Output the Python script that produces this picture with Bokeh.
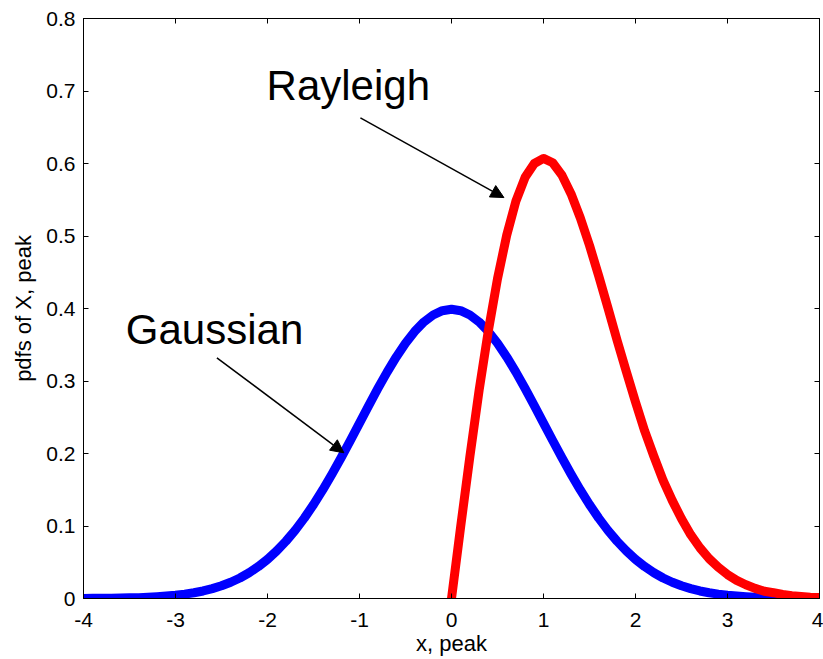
from bokeh.plotting import figure
from bokeh.models import Range1d, LinearAxis, FixedTicker, Arrow, NormalHead, CustomJSTickFormatter
from bokeh.core.properties import value
from bokeh.embed import file_html
from bokeh.resources import INLINE

# Data
gauss_x = [-4.0, -3.9, -3.8, -3.7, -3.6, -3.5, -3.4, -3.3, -3.2, -3.1, -3.0, -2.9, -2.8, -2.7,
           -2.6, -2.5, -2.4, -2.3, -2.2, -2.1, -2.0, -1.9, -1.8, -1.7, -1.6, -1.5, -1.4, -1.3,
           -1.2, -1.1, -1.0, -0.9, -0.8, -0.7, -0.6, -0.5, -0.4, -0.3, -0.2, -0.1, 0.0,
           0.1, 0.2, 0.3, 0.4, 0.5, 0.6, 0.7, 0.8, 0.9, 1.0, 1.1, 1.2, 1.3, 1.4, 1.5, 1.6, 1.7,
           1.8, 1.9, 2.0, 2.1, 2.2, 2.3, 2.4, 2.5, 2.6, 2.7, 2.8, 2.9, 3.0, 3.1, 3.2, 3.3, 3.4,
           3.5, 3.6, 3.7, 3.8, 3.9, 4.0]
gauss_y = [0.0001, 0.0002, 0.0003, 0.0004, 0.0006, 0.0009, 0.0012, 0.0017, 0.0024, 0.0033,
           0.0044, 0.0060, 0.0079, 0.0104, 0.0136, 0.0175, 0.0224, 0.0283, 0.0355, 0.0440,
           0.0540, 0.0656, 0.0790, 0.0940, 0.1109, 0.1295, 0.1497, 0.1714, 0.1942, 0.2179,
           0.2420, 0.2661, 0.2897, 0.3123, 0.3332, 0.3521, 0.3683, 0.3814, 0.3910, 0.3970,
           0.3989,
           0.3970, 0.3910, 0.3814, 0.3683, 0.3521, 0.3332, 0.3123, 0.2897, 0.2661, 0.2420,
           0.2179, 0.1942, 0.1714, 0.1497, 0.1295, 0.1109, 0.0940, 0.0790, 0.0656, 0.0540,
           0.0440, 0.0355, 0.0283, 0.0224, 0.0175, 0.0136, 0.0104, 0.0079, 0.0060, 0.0044,
           0.0033, 0.0024, 0.0017, 0.0012, 0.0009, 0.0006, 0.0004, 0.0003, 0.0002, 0.0001]
rayl_x = [0.0, 0.1, 0.2, 0.3, 0.4, 0.5, 0.6, 0.7, 0.8, 0.9, 1.0, 1.1, 1.2, 1.3, 1.4, 1.5, 1.6,
          1.7, 1.8, 1.9, 2.0, 2.1, 2.2, 2.3, 2.4, 2.5, 2.6, 2.7, 2.8, 2.9, 3.0, 3.1, 3.2, 3.3,
          3.4, 3.5, 3.6, 3.7, 3.8, 3.9, 4.0]
rayl_y = [0.0, 0.0995, 0.196, 0.287, 0.369, 0.441, 0.501, 0.548, 0.581, 0.600, 0.607, 0.601,
          0.584, 0.558, 0.525, 0.487, 0.445, 0.401, 0.356, 0.313, 0.271, 0.231, 0.196, 0.163,
          0.135, 0.110, 0.088, 0.070, 0.055, 0.043, 0.033, 0.025, 0.019, 0.014, 0.010, 0.008,
          0.0055, 0.0039, 0.0028, 0.0019, 0.0013]
x_ticks = [-4, -3, -2, -1, 0, 1, 2, 3, 4]
y_ticks = [0, 0.1, 0.2, 0.3, 0.4, 0.5, 0.6, 0.7, 0.8]
labels = ["Rayleigh", "Gaussian"]
label_x = [-2.01, -3.54]
label_y = [0.707, 0.371]
arrow_start = [(-0.99, 0.663), (-2.55, 0.332)]
arrow_end = [(0.57, 0.553), (-1.17, 0.201)]

FONT = "Liberation Sans"

p = figure(width=823, height=659, output_backend="svg", toolbar_location=None,
           x_range=Range1d(-4, 4), y_range=Range1d(0, 0.8),
           min_border_left=83, min_border_right=4, min_border_top=18, min_border_bottom=61)
p.background_fill_color = "white"
p.border_fill_color = "white"
p.grid.visible = False
p.outline_line_color = "black"
p.outline_line_width = 1

for ax in (p.xaxis[0], p.yaxis[0]):
    ax.major_tick_in = 5
    ax.major_tick_out = 0
    ax.minor_tick_in = 0
    ax.minor_tick_out = 0
    ax.axis_line_color = "black"
    ax.major_tick_line_color = "black"
    ax.major_label_text_font = FONT
    ax.major_label_text_font_size = "21px"
    ax.major_label_text_color = "black"
    ax.axis_label_text_font = FONT
    ax.axis_label_text_font_size = "22px"
    ax.axis_label_text_font_style = "normal"
    ax.axis_label_text_color = "black"

p.xaxis[0].ticker = FixedTicker(ticks=x_ticks)
p.yaxis[0].ticker = FixedTicker(ticks=y_ticks)
p.xaxis[0].axis_label = "x, peak"
p.yaxis[0].axis_label = "pdfs of X, peak"
p.xaxis[0].major_label_standoff = 14
p.xaxis[0].axis_label_standoff = 1
p.yaxis[0].major_label_standoff = 8
p.yaxis[0].axis_label_standoff = 7
p.xaxis[0].formatter = CustomJSTickFormatter(code="return tick.toString();")
p.yaxis[0].formatter = CustomJSTickFormatter(code="return tick == 0 ? '0' : tick.toFixed(1);")

blank = CustomJSTickFormatter(code="return '';")
top = LinearAxis(ticker=FixedTicker(ticks=x_ticks), formatter=blank, major_tick_in=5,
                 major_tick_out=0, minor_tick_in=0, minor_tick_out=0,
                 major_label_text_font_size="1px", major_label_standoff=0)
right = LinearAxis(ticker=FixedTicker(ticks=y_ticks), formatter=blank, major_tick_in=5,
                   major_tick_out=0, minor_tick_in=0, minor_tick_out=0,
                   major_label_text_font_size="1px", major_label_standoff=0)
p.add_layout(top, "above")
p.add_layout(right, "right")

p.line(gauss_x, gauss_y, line_color="#0000ff", line_width=9, line_cap="round", line_join="round")
p.line(rayl_x, rayl_y, line_color="#ff0000", line_width=9, line_cap="round", line_join="round")

p.text(x=label_x, y=label_y, text=labels, text_font=value(FONT), text_font_size="42px",
       text_color="black", text_align="left", text_baseline="alphabetic")

for (x0, y0), (x1, y1) in zip(arrow_start, arrow_end):
    p.add_layout(Arrow(x_start=x0, y_start=y0, x_end=x1, y_end=y1, line_width=1.5,
                       line_color="black",
                       end=NormalHead(size=13, fill_color="black", line_color="black")))

open("out.html", "w").write(file_html(p, INLINE))
